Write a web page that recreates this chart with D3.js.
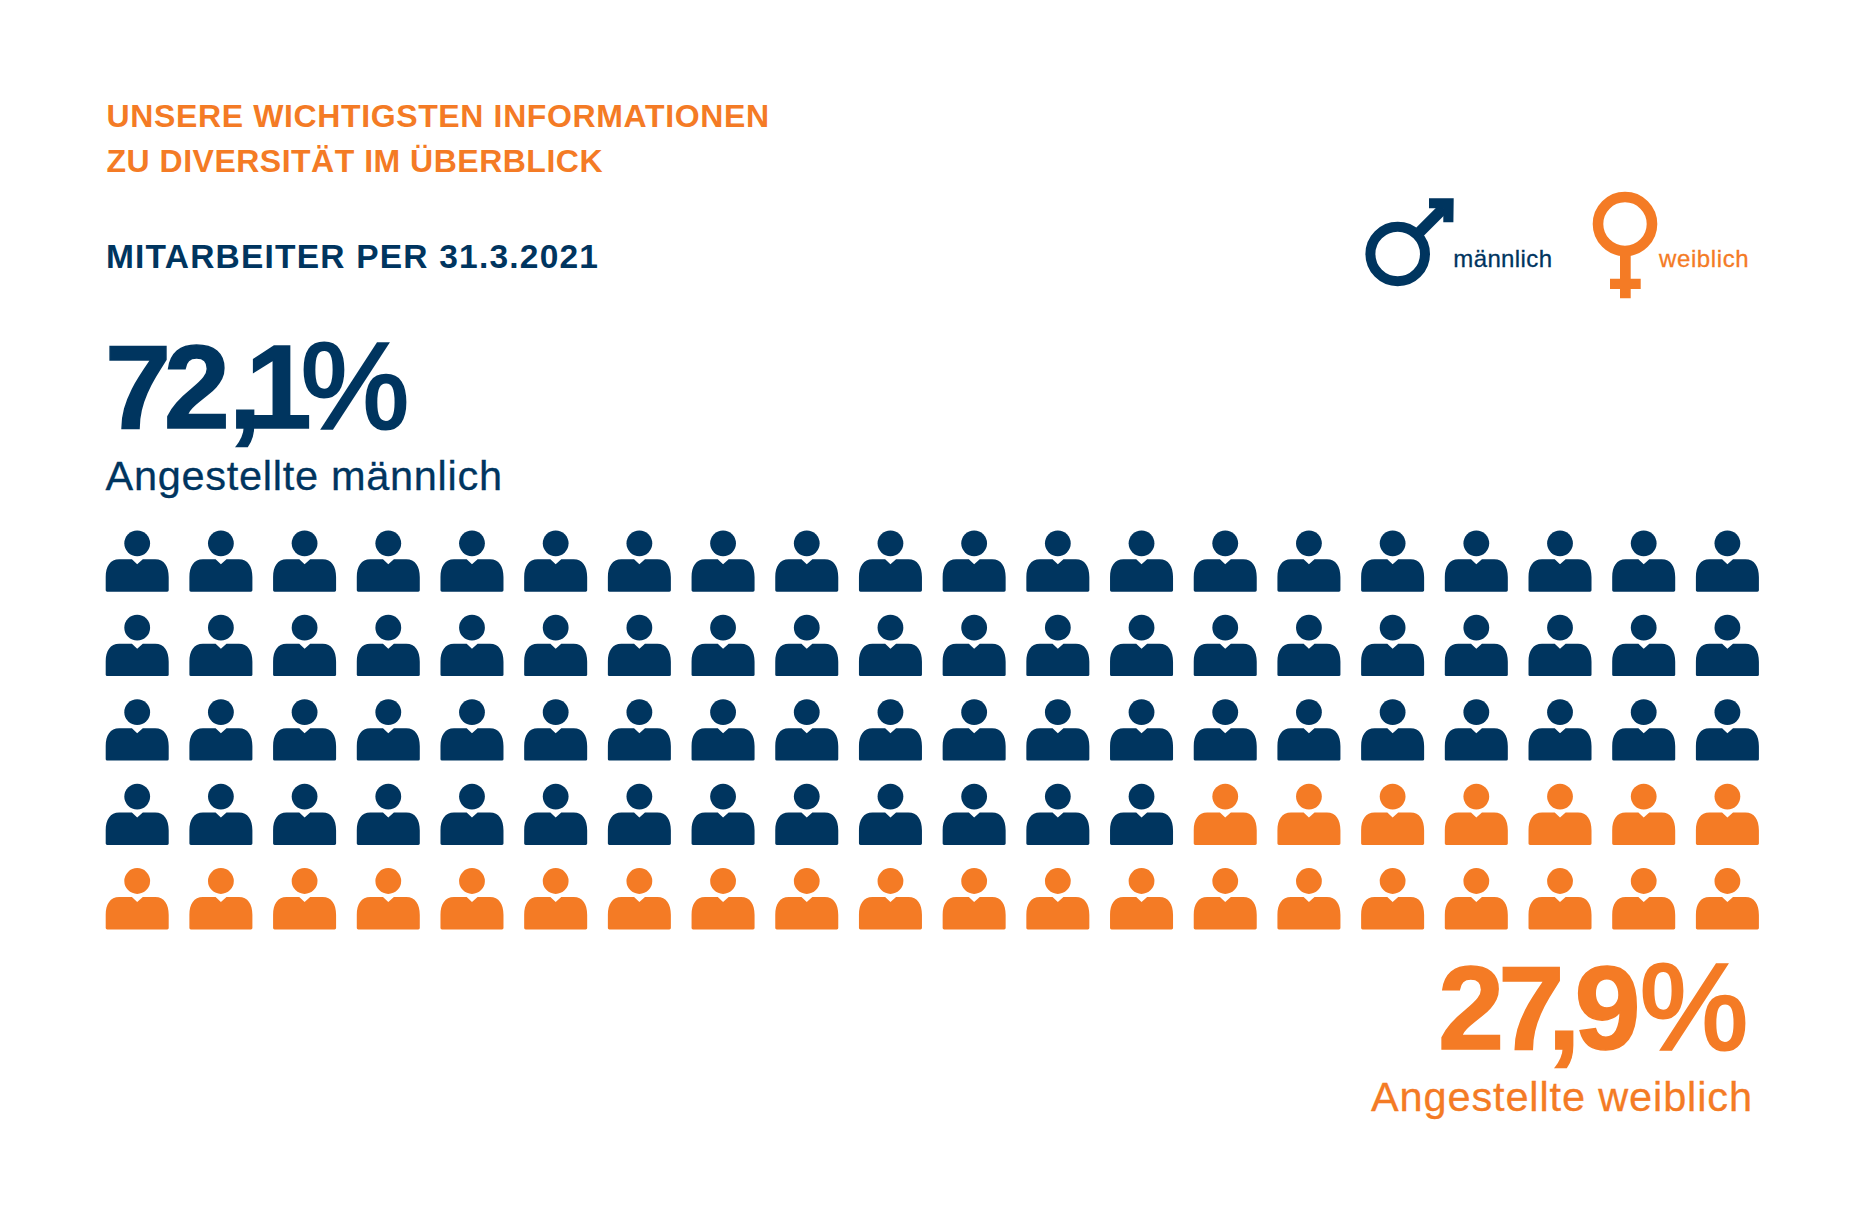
<!DOCTYPE html>
<html lang="de">
<head>
<meta charset="utf-8">
<title>Diversität</title>
<script src="https://cdnjs.cloudflare.com/ajax/libs/d3/7.8.5/d3.min.js"></script>
<style>
html,body{margin:0;padding:0;background:#fff}
svg{display:block}
text{font-family:"Liberation Sans",Arial,sans-serif}
</style>
</head>
<body>
<svg id="c" width="1867" height="1219"></svg>
<script>
const categories = ["männlich", "weiblich"];
const iconCounts = [73, 27];
const percentNumbers = ["72,1", "27,9"];
const percentSign = "%";
const captions = ["Angestellte männlich", "Angestellte weiblich"];
const titleLines = ["UNSERE WICHTIGSTEN INFORMATIONEN", "ZU DIVERSITÄT IM ÜBERBLICK"];
const subtitle = "MITARBEITER PER 31.3.2021";
const colCount = 20;
const rowCount = 5;

const NAVY = "#00355f", ORANGE = "#f47b25";
const svg = d3.select("#c");
const color = d3.scaleOrdinal().domain(categories).range([NAVY, ORANGE]);

const icons = categories.flatMap((c, i) => d3.range(iconCounts[i]).map(() => c))
  .map((c, i) => ({cat: c, col: i % colCount, row: Math.floor(i / colCount)}));

const x = d3.scalePoint().domain(d3.range(colCount)).range([137.2, 1727.4]);
const y = d3.scalePoint().domain(d3.range(rowCount)).range([543.3, 881]);

const personPath = "M-5.3,16 L0,21 L5.6,16 L18,16 C27,16 31.5,23 31.5,34 L31.5,47 Q31.5,48.4 30,48.4 L-30,48.4 Q-31.5,48.4 -31.5,47 L-31.5,34 C-31.5,23 -27,16 -18,16 Z";

const person = svg.append("g").selectAll("g").data(icons).join("g")
  .attr("transform", d => `translate(${x(d.col)},${y(d.row)})`)
  .attr("fill", d => color(d.cat));
person.append("circle").attr("r", 12.9);
person.append("path").attr("d", personPath);

function label(t, px, base, size, fill, width, weight, stroke) {
  const el = svg.append("text").attr("x", px).attr("y", base)
    .attr("font-size", size).attr("fill", fill)
    .attr("font-weight", weight || "normal")
    .attr("textLength", width).attr("lengthAdjust", "spacing").text(t);
  if (stroke) el.attr("stroke", fill).attr("stroke-width", stroke);
  return el;
}

// kerning is set glyph by glyph: the reference face sets digits much tighter than Liberation Sans
function bigPercent(num, px, base, fill, kern, gap) {
  const el = svg.append("text").attr("x", px).attr("y", base)
    .attr("font-size", 119).attr("font-weight", "bold").attr("fill", fill)
    .attr("stroke", fill).attr("stroke-width", 1.5);
  el.append("tspan").attr("dx", kern).text(num);
  el.append("tspan").attr("dx", gap).attr("font-size", 122).attr("font-weight", "normal")
    .attr("stroke-width", 3).text(percentSign);
}

label(titleLines[0], 106.5, 126.7, 32, ORANGE, 662.5, "bold");
label(titleLines[1], 106.5, 171.7, 32, ORANGE, 496, "bold");
label(subtitle, 106, 267.5, 33.5, NAVY, 492, "bold");

bigPercent(percentNumbers[0], 105, 428, NAVY, "0 -7.5 -1.5 -16", -11);
label(captions[0], 105.5, 490, 41.5, NAVY, 396.5, "normal", 0.3);
bigPercent(percentNumbers[1], 1438, 1049, ORANGE, "0 -6 -17 -6", -1);
label(captions[1], 1371, 1111, 41.5, ORANGE, 381, "normal", 0.3);

// legend symbols
const male = svg.append("g").attr("transform", "translate(1397.7,254)").attr("fill", NAVY);
male.append("circle").attr("r", 27.3).attr("fill", "none").attr("stroke", NAVY).attr("stroke-width", 10);
male.append("path").attr("d", "M20,-20 L46,-46").attr("stroke", NAVY).attr("stroke-width", 11);
male.append("path").attr("d", "M31.3,-55.7 L56,-55.7 L55.7,-31.7 L45.6,-31.7 L45.6,-45.7 L31.3,-45.7 Z");

const female = svg.append("g").attr("transform", "translate(1625,224)").attr("fill", ORANGE);
female.append("circle").attr("r", 27).attr("fill", "none").attr("stroke", ORANGE).attr("stroke-width", 10.6);
female.append("path").attr("d", "M-5,30 L5.7,30 L5.7,54.7 L15.7,54.7 L15.7,65 L5.7,65 L5.7,74.3 L-5,74.3 L-5,65 L-15,65 L-15,54.7 L-5,54.7 Z");

label(categories[0], 1453.3, 266.7, 24, NAVY, 98.7, "normal", 0.3);
label(categories[1], 1659, 266.7, 24, ORANGE, 89.7, "normal", 0.3);
</script>
</body>
</html>
